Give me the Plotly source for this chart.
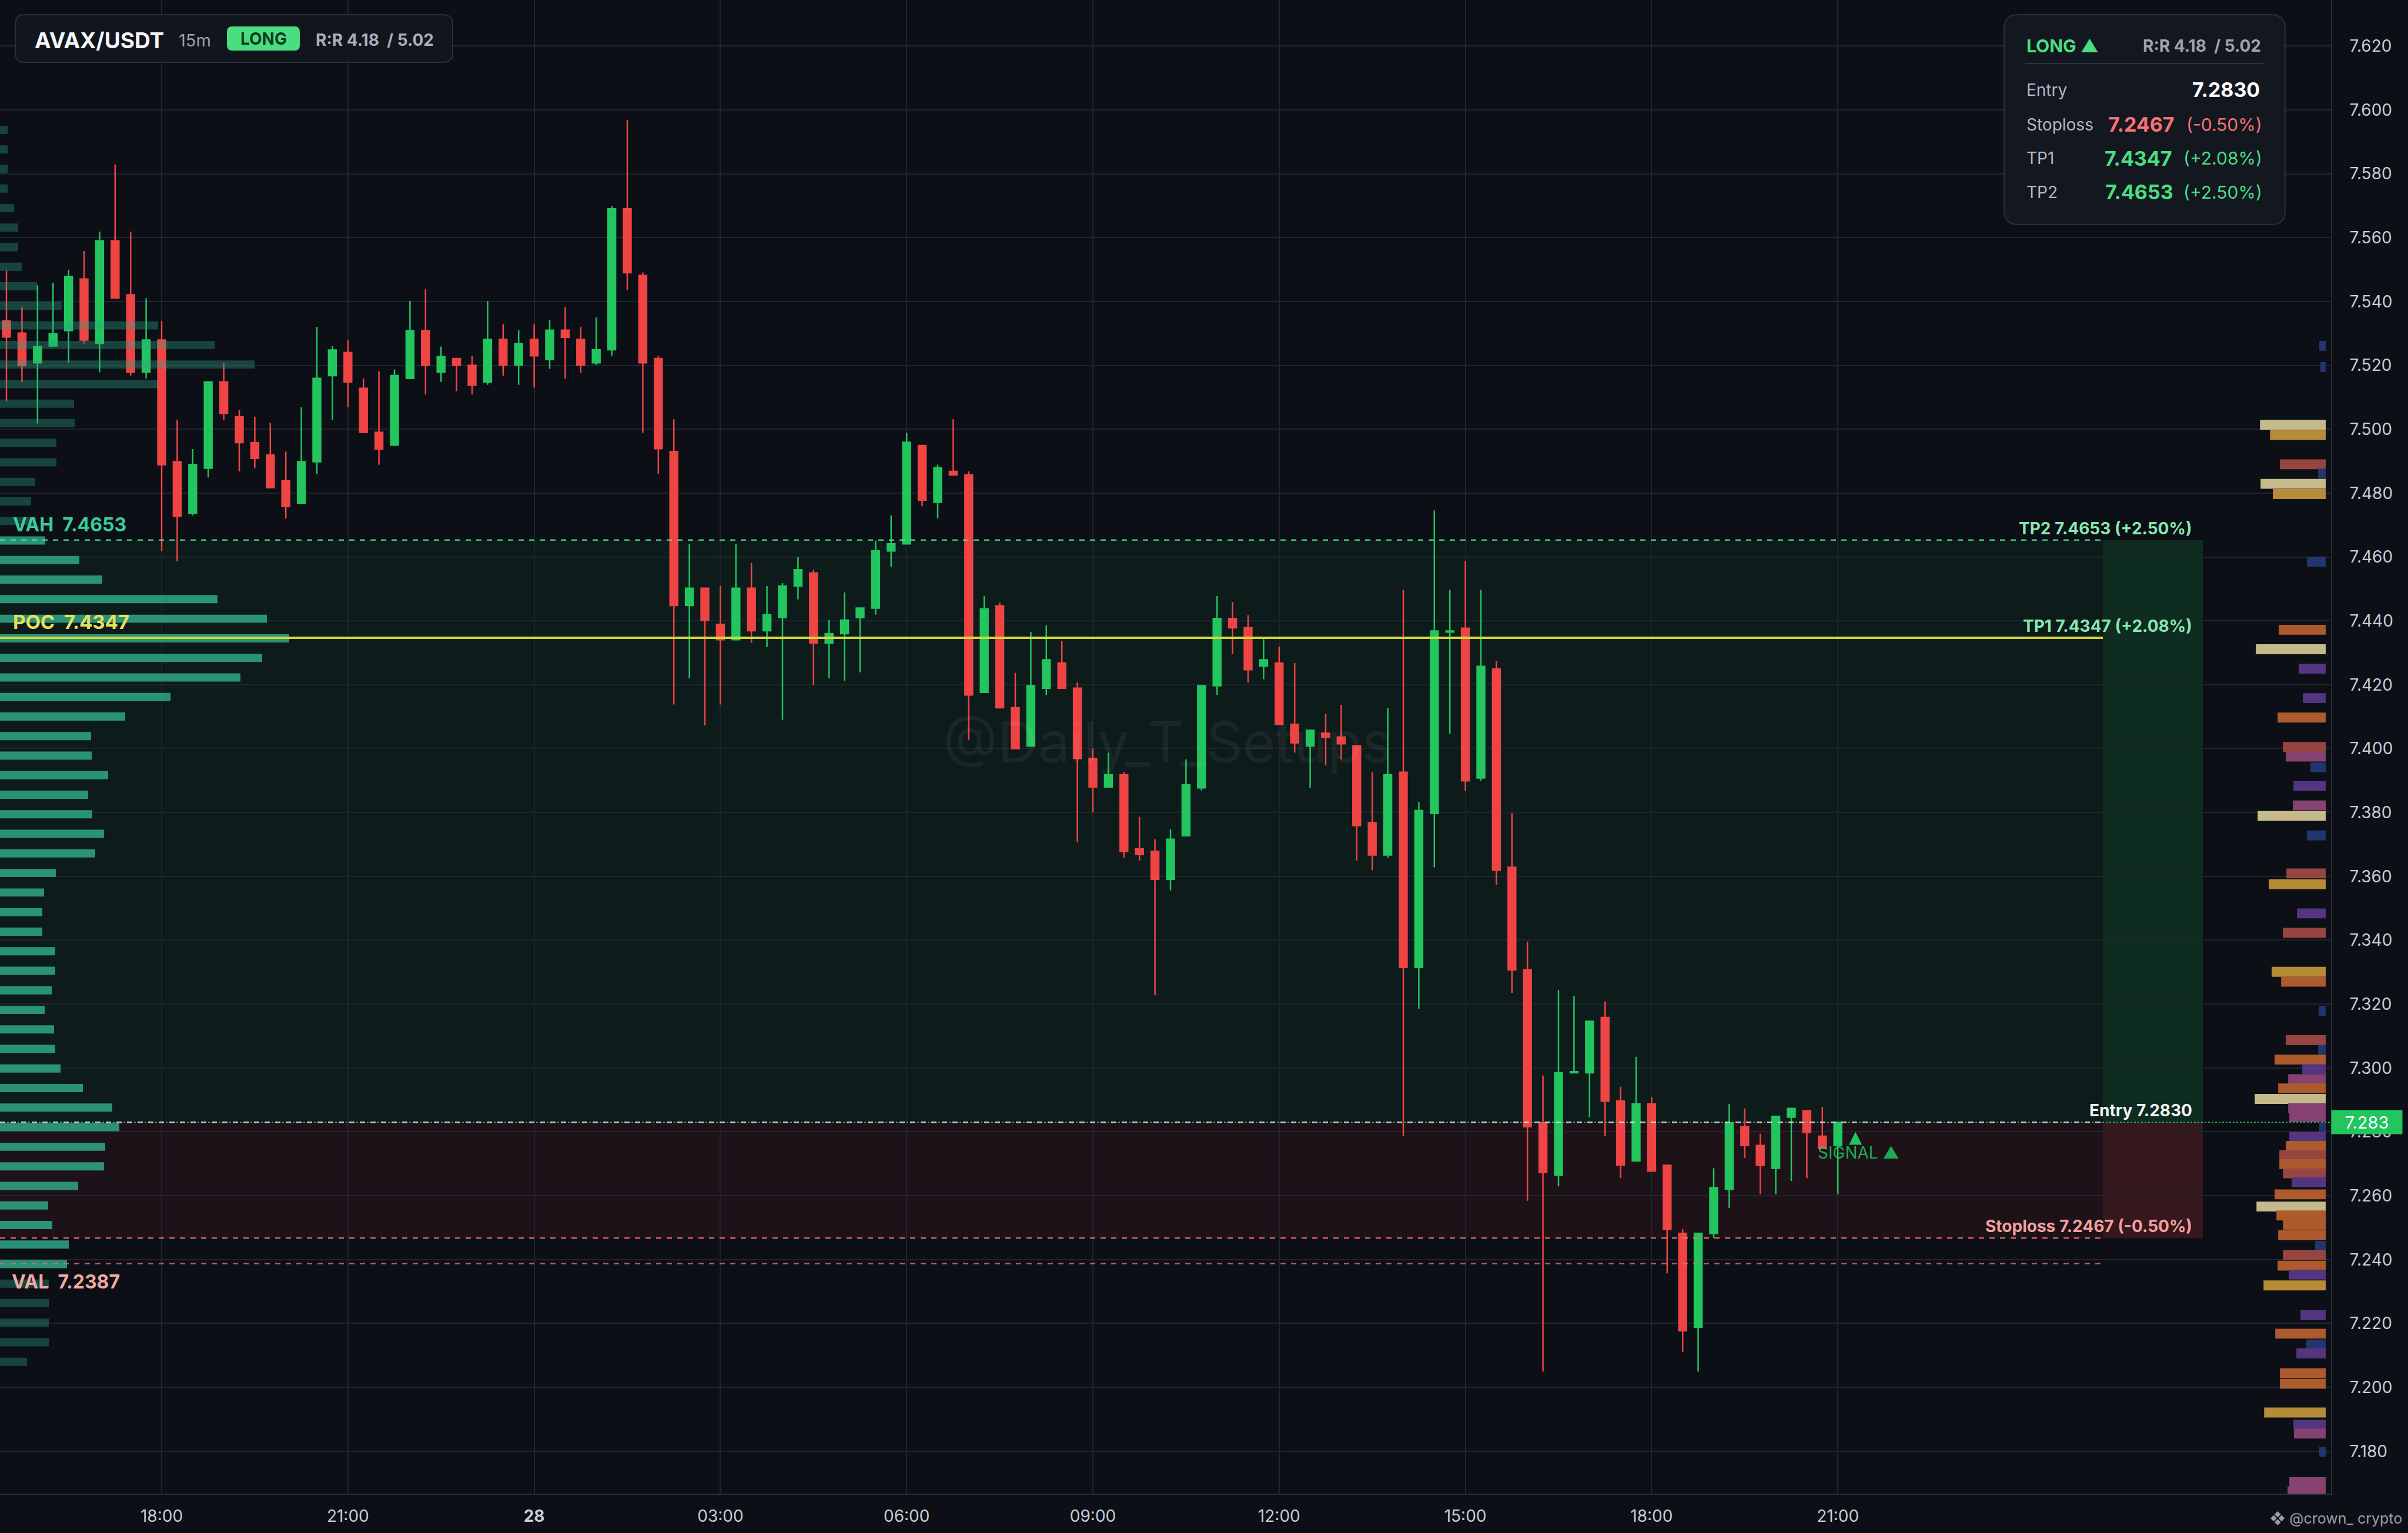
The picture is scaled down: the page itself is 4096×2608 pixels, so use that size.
import numpy as np
import pandas as pd
import plotly.graph_objects as go

# AVAX/USDT 15m candles, first one at 27th 15:30
opens = [7.5339, 7.5301, 7.5208, 7.5261, 7.5309, 7.5470, 7.5269, 7.5590, 7.5421, 7.5179,
         7.5279, 7.4898, 7.4737, 7.4878, 7.5148, 7.5039, 7.4958, 7.4919, 7.4838, 7.4769,
         7.4898, 7.5168, 7.5240, 7.5128, 7.4990, 7.4950, 7.5159, 7.5309, 7.5179, 7.5221,
         7.5200, 7.5148, 7.5281, 7.5201, 7.5281, 7.5218, 7.5310, 7.5281, 7.5208, 7.5249,
         7.5690, 7.5481, 7.5221, 7.4930, 7.4448, 7.4502, 7.4389, 7.4341, 7.4502, 7.4369,
         7.4410, 7.4509, 7.4550, 7.4331, 7.4360, 7.4410, 7.4440, 7.4619, 7.4641, 7.4949,
         7.4771, 7.4868, 7.4857, 7.4176, 7.4447, 7.4128, 7.4008, 7.4189, 7.4268, 7.4189,
         7.3969, 7.3880, 7.3918, 7.3686, 7.3678, 7.3591, 7.3727, 7.3877, 7.4197, 7.4407,
         7.4378, 7.4258, 7.4268, 7.4076, 7.4008, 7.4048, 7.4036, 7.4008, 7.3768, 7.3667,
         7.3926, 7.3315, 7.3797, 7.4365, 7.4377, 7.3908, 7.4249, 7.3628, 7.3307, 7.2828,
         7.2664, 7.2985, 7.2985, 7.3158, 7.2896, 7.2709, 7.2887, 7.2695, 7.2482, 7.2188,
         7.2482, 7.2620, 7.2816, 7.2757, 7.2686, 7.2846, 7.2866, 7.2786, 7.2757]
highs = [7.5497, 7.5381, 7.5451, 7.5458, 7.5499, 7.5558, 7.5619, 7.5829, 7.5619, 7.5410,
         7.5339, 7.5030, 7.4938, 7.5150, 7.5208, 7.5060, 7.5039, 7.5020, 7.4930, 7.5069,
         7.5320, 7.5261, 7.5279, 7.5159, 7.5181, 7.5187, 7.5402, 7.5438, 7.5259, 7.5222,
         7.5229, 7.5401, 7.5329, 7.5310, 7.5329, 7.5341, 7.5382, 7.5320, 7.5350, 7.5699,
         7.5968, 7.5491, 7.5230, 7.5031, 7.4641, 7.4503, 7.4509, 7.4641, 7.4581, 7.4509,
         7.4518, 7.4600, 7.4560, 7.4402, 7.4489, 7.4440, 7.4651, 7.4730, 7.4989, 7.4950,
         7.4889, 7.5031, 7.4868, 7.4478, 7.4457, 7.4237, 7.4365, 7.4386, 7.4337, 7.4207,
         7.4000, 7.3987, 7.3926, 7.3786, 7.3716, 7.3747, 7.3966, 7.4198, 7.4478, 7.4459,
         7.4418, 7.4343, 7.4319, 7.4268, 7.4058, 7.4109, 7.4137, 7.4009, 7.3926, 7.4128,
         7.4497, 7.3833, 7.4746, 7.4497, 7.4586, 7.4497, 7.4275, 7.3797, 7.3396, 7.2976,
         7.3244, 7.3226, 7.3147, 7.3208, 7.2941, 7.3035, 7.2909, 7.2696, 7.2495, 7.2483,
         7.2686, 7.2887, 7.2873, 7.2794, 7.2849, 7.2874, 7.2867, 7.2878, 7.2830]
lows = [7.5088, 7.5148, 7.5018, 7.5258, 7.5208, 7.5268, 7.5178, 7.5410, 7.5168, 7.5159,
        7.4619, 7.4586, 7.4730, 7.4849, 7.5030, 7.4868, 7.4878, 7.4815, 7.4720, 7.4765,
        7.4860, 7.5030, 7.5069, 7.4988, 7.4889, 7.4948, 7.5158, 7.5109, 7.5148, 7.5119,
        7.5109, 7.5139, 7.5168, 7.5139, 7.5130, 7.5189, 7.5158, 7.5177, 7.5201, 7.5230,
        7.5436, 7.4989, 7.4860, 7.4138, 7.4220, 7.4072, 7.4138, 7.4340, 7.4331, 7.4318,
        7.4090, 7.4467, 7.4199, 7.4220, 7.4212, 7.4239, 7.4419, 7.4569, 7.4640, 7.4759,
        7.4721, 7.4856, 7.4026, 7.4175, 7.4127, 7.3999, 7.4007, 7.4168, 7.4188, 7.3707,
        7.3800, 7.3879, 7.3658, 7.3649, 7.3228, 7.3556, 7.3726, 7.3869, 7.4168, 7.4296,
        7.4207, 7.4217, 7.4075, 7.3987, 7.3877, 7.3947, 7.3966, 7.3649, 7.3619, 7.3658,
        7.2786, 7.3185, 7.3628, 7.4047, 7.3868, 7.3899, 7.3574, 7.3235, 7.2584, 7.2049,
        7.2629, 7.2983, 7.2846, 7.2786, 7.2655, 7.2708, 7.2676, 7.2357, 7.2111, 7.2049,
        7.2468, 7.2561, 7.2718, 7.2605, 7.2605, 7.2646, 7.2655, 7.2747, 7.2605]
closes = [7.5289, 7.5199, 7.5259, 7.5299, 7.5478, 7.5279, 7.5590, 7.5411, 7.5179, 7.5279,
          7.4889, 7.4728, 7.4889, 7.5148, 7.5050, 7.4958, 7.4909, 7.4817, 7.4758, 7.4898,
          7.5159, 7.5248, 7.5148, 7.4990, 7.4938, 7.5168, 7.5309, 7.5200, 7.5227, 7.5200,
          7.5138, 7.5281, 7.5201, 7.5268, 7.5230, 7.5310, 7.5288, 7.5201, 7.5249, 7.5690,
          7.5490, 7.5208, 7.4939, 7.4448, 7.4502, 7.4402, 7.4341, 7.4502, 7.4369, 7.4419,
          7.4509, 7.4560, 7.4331, 7.4360, 7.4402, 7.4440, 7.4619, 7.4641, 7.4959, 7.4778,
          7.4879, 7.4857, 7.4168, 7.4437, 7.4128, 7.4000, 7.4197, 7.4278, 7.4189, 7.3969,
          7.3880, 7.3918, 7.3678, 7.3668, 7.3591, 7.3716, 7.3887, 7.4197, 7.4407, 7.4378,
          7.4247, 7.4278, 7.4076, 7.4018, 7.4057, 7.4036, 7.4015, 7.3759, 7.3667, 7.3918,
          7.3315, 7.3806, 7.4368, 7.4368, 7.3899, 7.4257, 7.3619, 7.3307, 7.2816, 7.2673,
          7.2985, 7.2988, 7.3146, 7.2896, 7.2696, 7.2887, 7.2677, 7.2495, 7.2177, 7.2482,
          7.2625, 7.2828, 7.2757, 7.2695, 7.2848, 7.2873, 7.2798, 7.2748, 7.2830]

# trade setup
entry = 7.2830
stoploss = 7.2467
tp1 = 7.4347
tp2 = 7.4653
vah = 7.4653
poc = 7.4347
val = 7.2387
signal_time = "2025-05-28 21:17"
signal_price = 7.2800

# volume profile, 64 bins from lowest low to highest high (bottom -> top)
vp_volume = [4.6, 8.3, 8.3, 8.3, 8.3, 11.4, 11.7, 8.9, 8.2, 13.3,
             17.7, 17.9, 20.3, 19.1, 14.1, 10.3, 9.4, 9.2, 7.6, 8.8,
             9.4, 9.4, 7.2, 7.2, 7.5, 9.5, 16.2, 17.7, 15.7, 15.0,
             18.4, 15.6, 15.5, 21.3, 29.0, 40.9, 44.6, 49.2, 45.4, 37.0,
             17.4, 13.5, 7.7, 6.1, 5.3, 6.0, 9.6, 9.6, 12.7, 12.6,
             26.9, 43.3, 36.5, 26.9, 10.5, 6.3, 3.7, 3.1, 3.1, 2.4,
             1.3, 1.3, 1.3, 1.3]

# liquidation heat on the right edge (level 0 = weak ... 6 = strong)
heat_price = [7.5261, 7.5195, 7.5014, 7.4982, 7.4890, 7.4861, 7.4829, 7.4797, 7.4585, 7.4372,
              7.4311, 7.4250, 7.4158, 7.4097, 7.4005, 7.3975, 7.3941, 7.3883, 7.3822, 7.3789,
              7.3728, 7.3609, 7.3575, 7.3484, 7.3423, 7.3301, 7.3270, 7.3179, 7.3087, 7.3057,
              7.3026, 7.2996, 7.2965, 7.2936, 7.2903, 7.2874, 7.2846, 7.2813, 7.2784, 7.2756,
              7.2727, 7.2699, 7.2670, 7.2642, 7.2604, 7.2566, 7.2538, 7.2509, 7.2476, 7.2443,
              7.2414, 7.2381, 7.2353, 7.2319, 7.2226, 7.2168, 7.2134, 7.2106, 7.2044, 7.2011,
              7.1921, 7.1883, 7.1855, 7.1798, 7.1703, 7.1674]
heat_size = [1.1, 0.9, 11.2, 9.5, 7.8, 1.3, 11.1, 9.0, 3.2, 8.0,
             11.9, 4.6, 3.9, 8.2, 7.3, 6.8, 2.6, 5.5, 5.6, 11.6,
             3.2, 6.7, 9.7, 4.9, 7.3, 9.2, 7.6, 1.2, 6.8, 1.3,
             8.7, 4.0, 6.4, 8.1, 12.1, 6.4, 6.2, 1.1, 6.2, 6.8,
             7.9, 7.9, 7.3, 5.8, 8.7, 11.8, 8.4, 7.3, 8.1, 1.8,
             7.3, 8.2, 6.3, 10.6, 4.3, 8.6, 3.3, 5.0, 7.8, 7.8,
             10.5, 5.5, 5.4, 1.1, 6.2, 6.5]
heat_level = [0, 0, 6, 5, 3, 0, 6, 5, 0, 4,
              6, 1, 1, 4, 3, 2, 0, 1, 2, 6,
              0, 3, 5, 1, 3, 5, 4, 0, 3, 0,
              4, 1, 2, 4, 6, 2, 2, 0, 1, 4,
              3, 4, 3, 1, 4, 6, 4, 4, 4, 0,
              3, 4, 1, 5, 1, 4, 0, 1, 4, 4,
              5, 1, 2, 0, 2, 2]

tick_times = ["2025-05-27 18:00", "2025-05-27 21:00", "2025-05-28 00:00", "2025-05-28 03:00",
              "2025-05-28 06:00", "2025-05-28 09:00", "2025-05-28 12:00", "2025-05-28 15:00",
              "2025-05-28 18:00", "2025-05-28 21:00"]
tick_text = ["18:00", "21:00", "<b>28</b>", "03:00", "06:00", "09:00", "12:00", "15:00",
             "18:00", "21:00"]

times = pd.date_range("2025-05-27 15:30", periods=len(opens), freq="15min")

BG = "#0c0f16"
GRID = "#20242d"
GREEN = "#22c55e"
RED = "#ef4444"
FONT = "Inter, Roboto, sans-serif"
W, H = 4096, 2608
PX_W, PX_H = 3965, 2541   # plot area in pixels
ZONE_X0, ZONE_X1 = 3577 / PX_W, 3747 / PX_W

# derived numbers
pct_sl = (stoploss / entry - 1) * 100
pct_tp1 = (tp1 / entry - 1) * 100
pct_tp2 = (tp2 / entry - 1) * 100
rr1 = (tp1 - entry) / (entry - stoploss)
rr2 = (tp2 - entry) / (entry - stoploss)

lo, hi = min(lows), max(highs)
nbins = len(vp_volume)
bin_size = (hi - lo) / nbins
bin_mid = lo + (np.arange(nbins) + 0.5) * bin_size
in_va = (bin_mid >= val - bin_size / 2) & (bin_mid <= vah + bin_size / 2)
vp_colors = np.where(in_va, "rgba(46,163,132,0.88)", "rgba(46,163,132,0.36)")


def px(x):
    return x / PX_W


def py(y):
    return 1 - y / PX_H


def rounded(x0, y0, x1, y1, r):
    rx, ry = r / PX_W, r / PX_H
    a, b, c, d = px(x0), px(x1), py(y0), py(y1)
    return (f"M {a+rx},{c} L {b-rx},{c} Q {b},{c} {b},{c-ry} L {b},{d+ry} "
            f"Q {b},{d} {b-rx},{d} L {a+rx},{d} Q {a},{d} {a},{d+ry} "
            f"L {a},{c-ry} Q {a},{c} {a+rx},{c} Z")


fig = go.Figure()

fig.add_trace(go.Candlestick(
    x=times, open=opens, high=highs, low=lows, close=closes,
    increasing=dict(line=dict(color=GREEN, width=2.5), fillcolor=GREEN),
    decreasing=dict(line=dict(color=RED, width=2.5), fillcolor=RED),
    whiskerwidth=0, showlegend=False, hoverinfo="skip",
))

# volume profile on the left
fig.add_trace(go.Bar(
    x=vp_volume, y=bin_mid, orientation="h", width=bin_size * 0.42,
    marker=dict(color=list(vp_colors), line=dict(width=0)),
    xaxis="x2", showlegend=False, hoverinfo="skip",
))

# liquidation heat on the right
heat_scale = [[0.0, "#263a78"], [1 / 6, "#5b3a8c"], [2 / 6, "#94487a"], [3 / 6, "#a54b45"],
              [4 / 6, "#bf6430"], [5 / 6, "#c99a3c"], [1.0, "#d8cd98"]]
fig.add_trace(go.Bar(
    x=heat_size, y=heat_price, orientation="h", width=0.0031,
    marker=dict(color=heat_level, colorscale=heat_scale, cmin=0, cmax=6, line=dict(width=0)),
    opacity=0.9, xaxis="x3", showlegend=False, hoverinfo="skip",
))

# signal arrow
fig.add_trace(go.Scatter(
    x=[signal_time], y=[signal_price], mode="markers",
    marker=dict(symbol="arrow-up", size=22, color=GREEN, line=dict(width=0)),
    showlegend=False, hoverinfo="skip",
))

shapes = []
# trade zones
shapes.append(dict(type="rect", xref="paper", yref="y", x0=0, x1=ZONE_X0, y0=entry, y1=tp2,
                   fillcolor="rgba(34,197,94,0.065)", line=dict(width=0), layer="below"))
shapes.append(dict(type="rect", xref="paper", yref="y", x0=ZONE_X0, x1=ZONE_X1, y0=entry, y1=tp2,
                   fillcolor="rgba(34,197,94,0.16)", line=dict(width=0), layer="below"))
shapes.append(dict(type="rect", xref="paper", yref="y", x0=0, x1=ZONE_X0, y0=stoploss, y1=entry,
                   fillcolor="rgba(239,68,68,0.08)", line=dict(width=0), layer="below"))
shapes.append(dict(type="rect", xref="paper", yref="y", x0=ZONE_X0, x1=ZONE_X1, y0=stoploss, y1=entry,
                   fillcolor="rgba(239,68,68,0.18)", line=dict(width=0), layer="below"))

# level lines
shapes.append(dict(type="line", xref="paper", yref="y", x0=0, x1=1, y0=entry, y1=entry,
                   line=dict(color=GREEN, width=1.5, dash="dot"), layer="above"))
for yv, col, w, dash in [(tp2, "rgba(74,222,150,0.85)", 2.5, "dash"),
                         (poc, "#d2d636", 4, "solid"),
                         (entry, "rgba(220,224,230,0.85)", 2.5, "dash"),
                         (stoploss, "rgba(235,110,110,0.85)", 2.5, "dash"),
                         (val, "rgba(225,110,110,0.8)", 2.5, "dash")]:
    shapes.append(dict(type="line", xref="paper", yref="y", x0=0, x1=ZONE_X0, y0=yv, y1=yv,
                       line=dict(color=col, width=w, dash=dash), layer="above"))

# header box and info box
shapes.append(dict(type="path", xref="paper", yref="paper", path=rounded(26, 25, 770, 106, 16),
                   fillcolor="rgba(18,22,30,0.95)", line=dict(color="#2a2f3a", width=2), layer="above"))
shapes.append(dict(type="path", xref="paper", yref="paper", path=rounded(386, 45, 510, 86, 9),
                   fillcolor="#4ade80", line=dict(width=0), layer="above"))
shapes.append(dict(type="path", xref="paper", yref="paper", path=rounded(3409, 25, 3887, 382, 24),
                   fillcolor="rgba(20,24,33,0.96)", line=dict(color="#2a2f3a", width=2), layer="above"))
shapes.append(dict(type="line", xref="paper", yref="paper", x0=px(3445), x1=px(3850),
                   y0=py(108), y1=py(108), line=dict(color="#2e3440", width=2), layer="above"))

ann = []


def txt(x, y, s, size, color, anchor="left", bold=False):
    ann.append(dict(xref="paper", yref="paper", x=px(x), y=py(y), xanchor=anchor, yanchor="middle",
                    text=f"<b>{s}</b>" if bold else s, showarrow=False,
                    font=dict(family=FONT, size=size, color=color)))


txt(57, 68, "AVAX/USDT", 37, "#f5f6f8", bold=True)
txt(302, 68, "15m", 29, "#9aa0ab")
txt(448, 66, "LONG", 28, "#0c3b1f", anchor="center", bold=True)
txt(535, 68, f"R:R {rr1:.2f}&nbsp; / {rr2:.2f}", 28, "#a9aeb8", bold=True)

txt(3445, 78, "LONG ▲", 30, "#4ade80", bold=True)
txt(3848, 78, f"R:R {rr1:.2f}&nbsp; / {rr2:.2f}", 28, "#9ea3ad", anchor="right", bold=True)
rows = [("Entry", 153), ("Stoploss", 212), ("TP1", 269), ("TP2", 327)]
for name, yy in rows:
    txt(3445, yy, name, 28, "#b3b8c2")
txt(3846, 153, f"{entry:.4f}", 34, "#ffffff", anchor="right", bold=True)
txt(3701, 212, f"{stoploss:.4f}", 34, "#f87171", anchor="right", bold=True)
txt(3850, 212, f"({pct_sl:.2f}%)", 30, "#f87171", anchor="right")
txt(3697, 269, f"{tp1:.4f}", 34, "#4ade80", anchor="right", bold=True)
txt(3850, 269, f"(+{pct_tp1:.2f}%)", 30, "#4ade80", anchor="right")
txt(3699, 327, f"{tp2:.4f}", 34, "#4ade80", anchor="right", bold=True)
txt(3850, 327, f"(+{pct_tp2:.2f}%)", 30, "#4ade80", anchor="right")


def level_label(x, yv, s, color, anchor, yanchor, shift, size=28):
    ann.append(dict(xref="paper", yref="y", x=x, y=yv, xanchor=anchor, yanchor=yanchor, yshift=shift,
                    text=f"<b>{s}</b>", showarrow=False, font=dict(family=FONT, size=size, color=color)))


level_label(px(3731), tp2, f"TP2 {tp2:.4f} (+{pct_tp2:.2f}%)", "#86e9b0", "right", "bottom", 1)
level_label(px(3731), tp1, f"TP1 {tp1:.4f} (+{pct_tp1:.2f}%)", "#86e9b0", "right", "bottom", 1)
level_label(px(3731), entry, f"Entry {entry:.4f}", "#f1f3f5", "right", "bottom", 1)
level_label(px(3731), stoploss, f"Stoploss {stoploss:.4f} ({pct_sl:.2f}%)", "#f2a0a0", "right", "bottom", 1)
level_label(px(20), vah, f"VAH&nbsp; {vah:.4f}", "#3ccb9c", "left", "bottom", 5, 32)
level_label(px(20), poc, f"POC&nbsp; {poc:.4f}", "#e6e057", "left", "bottom", 5, 33)
level_label(px(18), val, f"VAL&nbsp; {val:.4f}", "#f0a8a0", "left", "top", -9, 32)

# signal text
ann.append(dict(xref="paper", yref="y", x=px(3090), y=signal_price, xanchor="left", yanchor="middle",
                yshift=-36, text="SIGNAL ▲", showarrow=False,
                font=dict(family=FONT, size=28, color="rgba(34,197,94,0.85)")))

# watermark
ann.append(dict(xref="paper", yref="paper", x=px(1985), y=py(1262), text="@Daily_T_Setups",
                showarrow=False, font=dict(family=FONT, size=96, color="rgba(255,255,255,0.055)")))

# last price tag (covers the 7.280 tick like the original)
ann.append(dict(xref="paper", yref="y", x=1, y=closes[-1], xanchor="left", yanchor="middle",
                text=f"{closes[-1]:.3f}", showarrow=False, bgcolor=GREEN, width=112, height=32,
                borderpad=4, font=dict(family=FONT, size=29, color="#ffffff")))

# credit
ann.append(dict(xref="paper", yref="paper", x=px(4088), y=py(2583), xanchor="right", yanchor="middle",
                text="❖ @crown_ crypto", showarrow=False,
                font=dict(family=FONT, size=25, color="#9aa0ab")))

fig.update_layout(
    width=W, height=H,
    margin=dict(l=0, r=W - PX_W, t=0, b=H - PX_H),
    paper_bgcolor=BG, plot_bgcolor=BG,
    barmode="overlay",
    shapes=shapes, annotations=ann,
    font=dict(family=FONT, color="#c8ccd4"),
    xaxis=dict(
        type="date", range=["2025-05-27 15:23:45", "2025-05-29 04:56:36"],
        tickvals=tick_times, ticktext=tick_text,
        showgrid=True, gridcolor=GRID, gridwidth=2,
        showline=True, linecolor="#2a2e38", linewidth=2,
        zeroline=False, rangeslider=dict(visible=False),
        tickfont=dict(size=28, color="#c8ccd4"), ticks="", ticklabelstandoff=12,
    ),
    xaxis2=dict(overlaying="x", range=[0, PX_W / 10], visible=False),
    xaxis3=dict(overlaying="x", range=[PX_W / 10, -0.9], visible=False),
    yaxis=dict(
        side="right", range=[7.1667, 7.6344], dtick=0.02, tick0=7.18, tickformat=".3f",
        showgrid=True, gridcolor=GRID, gridwidth=2,
        showline=True, linecolor="#2a2e38", linewidth=2,
        zeroline=False, ticks="", ticklabelstandoff=24,
        tickfont=dict(size=28, color="#c8ccd4"),
    ),
    hovermode=False,
)

fig.write_html("out.html", config={"displayModeBar": False},
               post_script="document.body.style.margin='0';")
